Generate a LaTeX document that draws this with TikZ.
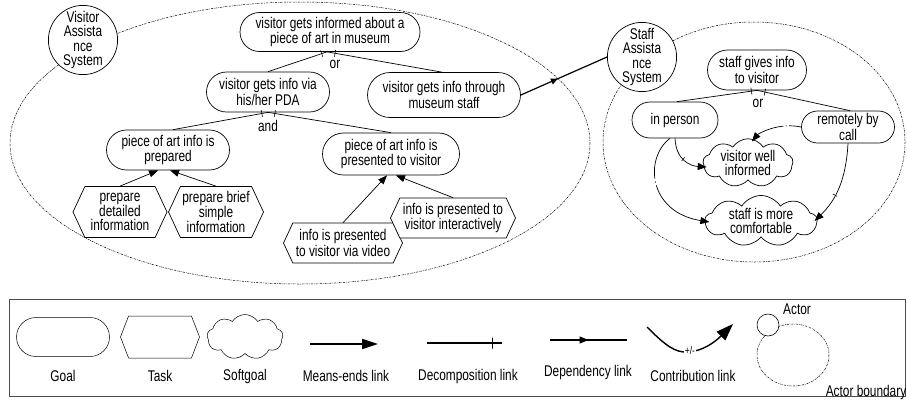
\documentclass[tikz,border=0pt]{standalone}
\usepackage{fontspec}
\setmainfont{Liberation Sans}[FakeStretch=0.765]
\usetikzlibrary{shapes.misc,shapes.symbols,arrows.meta,decorations.markings,calc}
\begin{document}
\begin{tikzpicture}[x=1pt,y=-1pt,
  every node/.style={font=\fontsize{15.5}{14.2}\selectfont, align=center, inner sep=0pt},
  goal/.style={rounded rectangle, draw, line width=0.7pt, fill=white},
  task/.style={signal, signal to=west and east, signal pointer angle=130, draw, line width=0.7pt, fill=white},
  soft/.style={cloud, cloud puffs=9, cloud puff arc=115, aspect=2.2, cloud ignores aspect, draw, line width=0.7pt, fill=white},
  actor/.style={circle, draw, line width=0.7pt, fill=white, minimum size=69},
  bound/.style={draw, line width=0.5pt, dash pattern=on 2pt off 1pt on 0.6pt off 1pt},
  link/.style={line width=0.7pt},
  me/.style={link, -{Triangle[length=9pt,width=7pt]}},
  contrib/.style={link, -{Triangle[length=9pt,width=7pt]}},
  dtick/.style={sloped, draw, inner sep=0pt, minimum width=0pt, minimum height=7pt, line width=0.6pt},
  lbl/.style={font=\fontsize{15.5}{14.2}\selectfont}
]
\path[use as bounding box, fill=white] (0,0) rectangle (907,400);

% actor boundaries
\draw[bound] (300,143) ellipse [x radius=290, y radius=141];
\draw[bound] (754,142) ellipse [x radius=151, y radius=120];

% actors
\node[actor] (vas) at (83,40) {Visitor\\Assista\\nce\\System};
\node[actor] (sas) at (642,57) {Staff\\Assista\\nce\\System};

% visitor goals
\node[goal, minimum width=180, minimum height=39] (g1) at (330,32) {visitor gets informed about a\\piece of art in museum};
\node[goal, minimum width=123, minimum height=40] (g2) at (268,92) {visitor gets info via\\his/her PDA};
\node[goal, minimum width=153, minimum height=45] (g3) at (444,95) {visitor gets info through\\museum staff};
\node[goal, minimum width=123, minimum height=40] (g4) at (168,150) {piece of art info is\\prepared};
\node[goal, minimum width=137, minimum height=42] (g5) at (391,154) {piece of art info is\\presented to visitor};

% visitor tasks
\node[task, minimum width=94, minimum height=51] (t1) at (120,212) {prepare\\detailed\\information};
\node[task, minimum width=95, minimum height=51] (t2) at (216,212) {prepare brief\\simple\\information};
\node[task, minimum width=119, minimum height=40] (t3) at (343,243) {info is presented\\to visitor via video};
\node[task, minimum width=125, minimum height=40] (t4) at (453,218) {info is presented to\\visitor interactively};

% staff goals and softgoals
\node[goal, minimum width=99, minimum height=40] (g6) at (757,70) {staff gives info\\to visitor};
\node[goal, minimum width=86, minimum height=36] (g7) at (675,120) {in person};
\node[goal, minimum width=93, minimum height=32] (g8) at (848,127) {remotely by\\call};
\node[soft, minimum width=90, minimum height=40] (s1) at (748,163) {visitor well\\informed};
\node[soft, minimum width=112, minimum height=47] (s2) at (761,221) {staff is more\\comfortable};

% OR decomposition (visitor)
\draw[link] ([xshift=-3pt]g1.south) -- node[dtick,pos=0.09]{} (g2.north);
\draw[link] ([xshift=-3pt]g1.south) -- node[dtick,pos=0.07]{} ([xshift=-2pt]g3.north);
\node (or1) at (335,64) {or};

% AND decomposition
\draw[link] (g2.south) -- node[dtick,pos=0.065]{} ([xshift=5pt]g4.north);
\draw[link] (g2.south) -- node[dtick,pos=0.056]{} (g5.north);
\node (and1) at (268,126) {and};

% means-ends
\draw[me] (t1.north) -- ([xshift=-10pt]g4.south);
\draw[me] (t2.north) -- ([xshift=2pt]g4.south);
\draw[me] (t3.north) -- ([xshift=-4pt]g5.south);
\draw[me] (t4.north) -- ([xshift=5pt]g5.south);

% dependency
\draw[link, line width=1.2pt, postaction={decorate},
  decoration={markings, mark=at position 0.43 with {\arrow{Triangle[length=7pt,width=6pt]}}}]
  (g3.east) -- (sas.west);

% OR decomposition (staff)
\draw[link] (g6.south) -- node[dtick,pos=0.07]{} ([xshift=2pt]g7.north);
\draw[link] (g6.south) -- node[dtick,pos=0.085]{} ([xshift=2pt]g8.north);
\node (or2) at (758,103) {or};

% contributions
\draw[contrib] (g7.south) .. controls (676,160) and (690,166) .. node[dtick,pos=0.45,minimum height=5pt]{} ([shift={(4pt,-4pt)}]s1.west);
\draw[contrib, dash pattern=on 45pt off 3pt on 1pt off 3pt on 200pt off 0pt] ([xshift=-5pt]g7.south) .. controls (644,158) and (648,212) .. ([shift={(5pt,-1pt)}]s2.west);
\draw[contrib, dash pattern=on 12pt off 2.5pt on 1pt off 2.5pt on 200pt off 0pt] (g8.west) .. controls (778,122) and (758,134) .. ([shift={(4pt,-3pt)}]s1.north);
\draw[contrib] (g8.south) .. controls (846,180) and (836,200) .. node[dtick,pos=0.6,minimum height=5pt]{} ([xshift=-3pt]s2.east);

% legend
\draw[line width=1pt, draw=black!70] (9,299) rectangle (905,396);
\node[goal, minimum width=93, minimum height=39, line width=0.5pt] (lg) at (63,337) {};
\node[lbl] (lgt) at (63,376) {Goal};
\node[task, minimum width=79, minimum height=42, line width=0.5pt, signal pointer angle=138] (lt) at (160,337) {};
\node[lbl] (ltt) at (160,376) {Task};
\node[soft, minimum width=76, minimum height=45, line width=0.5pt] (ls) at (245,337) {};
\node[lbl] (lst) at (245,376) {Softgoal};

\coordinate (me1) at (310,344);
\coordinate (me2) at (378,344);
\draw[line width=1.8pt, -{Triangle[length=16pt,width=10pt]}] (me1) -- (me2);
\node[lbl] (lmt) at (346,376) {Means-ends link};

\coordinate (dc1) at (427,343);
\coordinate (dc2) at (502,343);
\draw[line width=1.6pt] (dc1) -- node[dtick,pos=0.87,minimum height=11pt,line width=1.2pt]{} (dc2);
\node[lbl] (ldt) at (468,376) {Decomposition link};

\coordinate (dp1) at (550,340);
\coordinate (dp2) at (627,340);
\draw[line width=1.3pt, postaction={decorate},
  decoration={markings, mark=at position 0.5 with {\arrow{Triangle[length=9pt,width=7pt]}}}] (dp1) -- (dp2);
\node[lbl] (ldpt) at (588,372) {Dependency link};

\coordinate (cb1) at (647,327);
\coordinate (cb2) at (733,324);
\draw[line width=1.4pt, -{Triangle[length=17pt,width=12pt]}] (cb1) .. controls (665,345) and (675,353) .. (688,352) .. controls (703,351) and (715,342) .. (cb2);
\node[fill=white, font=\fontsize{11}{11}\selectfont, inner sep=0.5pt] (pm) at (690,351) {+/-};
\node[lbl] (lct) at (693,376) {Contribution link};

\draw[bound] (793,355) ellipse [x radius=36, y radius=31];
\node[circle, draw, line width=0.6pt, fill=white, minimum size=22] (la) at (768,325) {};
\node[lbl] (lat) at (797,309) {Actor};
\node[lbl] (labt) at (866,392) {Actor boundary};
\end{tikzpicture}
\end{document}
